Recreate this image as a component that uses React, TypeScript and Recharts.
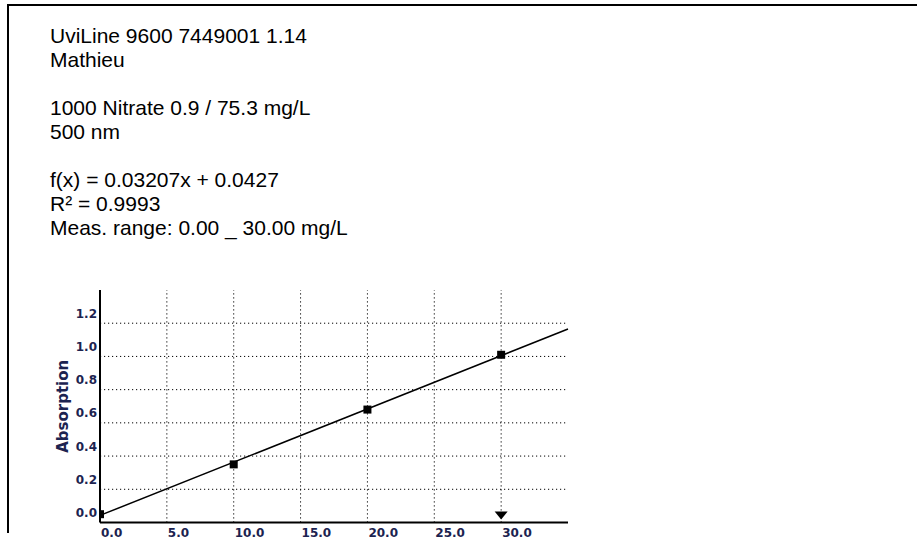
import { ComposedChart, Scatter, XAxis, YAxis, ReferenceLine, ReferenceDot } from "recharts";

// header text printed above the calibration curve
const headerLines = [
  "UviLine 9600 7449001 1.14",
  "Mathieu",
  "",
  "1000 Nitrate 0.9 / 75.3 mg/L",
  "500 nm",
  "",
  "f(x) = 0.03207x + 0.0427",
  "R\u00b2 = 0.9993",
  "Meas. range: 0.00 _ 30.00 mg/L",
];

// standards (mg/L) and measured absorption
const stdConc = [0, 10, 20, 30];
const stdAbs = [0.05, 0.35, 0.68, 1.01];

// fitted line end points
const fitX = [0, 35];
const fitY = [0.0427, 1.165];

// upper end of measuring range (triangle marker)
const rangeEnd = 30;

const xTicks = [0, 5, 10, 15, 20, 25, 30];
const yTicks = [0, 0.2, 0.4, 0.6, 0.8, 1.0, 1.2];

const points = stdConc.map((x, i) => ({ x, y: stdAbs[i] }));

const tickColor = "#1c2350";
const tickFont = "'DejaVu Sans', Verdana, sans-serif";
const gridDash = "1.2 2.8";

const XTick = (props: any) => {
  const { x, y, payload } = props;
  return (
    <text x={x + 1} y={y + 12} textAnchor="start" fontFamily={tickFont} fontWeight="bold" fontSize={12} fill={tickColor}>
      {payload.value.toFixed(1)}
    </text>
  );
};

const YTick = (props: any) => {
  const { x, y, payload } = props;
  return (
    <text x={x} y={y - 9.5} textAnchor="end" dominantBaseline="central" fontFamily={tickFont} fontWeight="bold" fontSize={12} fill={tickColor}>
      {payload.value.toFixed(1)}
    </text>
  );
};

const SquareDot = (props: any) => {
  const { cx, cy } = props;
  return <rect x={cx - 4} y={cy - 4} width={8} height={8} fill="#000" />;
};

const Triangle = (props: any) => {
  const { cx, cy } = props;
  return <polygon points={`${cx - 6.5},${cy - 11} ${cx + 6.5},${cy - 11} ${cx},${cy - 3}`} fill="#000" />;
};

export default function App() {
  return (
    <div style={{ position: "fixed", left: 0, top: 0, width: 917, height: 539, overflow: "hidden", background: "#fff" }}>
      <div
        style={{
          position: "absolute",
          left: 7,
          top: 4,
          width: 910,
          height: 529,
          borderTop: "2px solid #000",
          borderLeft: "2px solid #000",
          boxSizing: "border-box",
        }}
      />
      <div
        style={{
          position: "absolute",
          left: 50,
          top: 24,
          fontFamily: "'Liberation Sans', Arial, sans-serif",
          fontSize: 21,
          lineHeight: "24px",
          color: "#000",
          whiteSpace: "pre",
        }}
      >
        {headerLines.map((t, i) => (
          <div key={i} style={{ height: 24 }}>{t}</div>
        ))}
      </div>
      <div style={{ position: "absolute", left: 0, top: 0 }}>
        <ComposedChart width={917} height={560} data={points} margin={{ top: 290, right: 349, left: 40, bottom: 17.5 }}>
          {/* dotted grid at the tick values only */}
          {yTicks.slice(1).map((v) => (
            <ReferenceLine key={`h${v}`} y={v} stroke="#000" strokeDasharray={gridDash} />
          ))}
          {xTicks.slice(1).map((v) => (
            <ReferenceLine key={`v${v}`} x={v} stroke="#000" strokeDasharray={gridDash} />
          ))}
          <XAxis
            type="number"
            dataKey="x"
            domain={[0, 35]}
            ticks={xTicks}
            height={20}
            tickLine={false}
            tickSize={0}
            axisLine={{ stroke: "#000", strokeWidth: 2 }}
            tick={<XTick />}
            allowDataOverflow
          />
          <YAxis
            type="number"
            dataKey="y"
            domain={[0, 1.4]}
            ticks={yTicks}
            width={60}
            tickLine={false}
            tickSize={0}
            tickMargin={3}
            axisLine={{ stroke: "#000", strokeWidth: 2 }}
            tick={<YTick />}
            allowDataOverflow
            label={{
              content: (p: any) => {
                const vb = p.viewBox;
                const cx = vb.x + 23;
                const cy = vb.y + vb.height / 2;
                return (
                  <text x={cx} y={cy} transform={`rotate(-90 ${cx} ${cy})`} textAnchor="middle" dominantBaseline="central" fontFamily={tickFont} fontWeight="bold" fontSize={15} fill={tickColor}>
                    Absorption
                  </text>
                );
              },
            }}
          />
          <ReferenceLine
            segment={[
              { x: fitX[0], y: fitY[0] },
              { x: fitX[1], y: fitY[1] },
            ]}
            stroke="#000"
            strokeWidth={1.5}
            ifOverflow="visible"
          />
          <Scatter data={points} dataKey="y" shape={<SquareDot />} isAnimationActive={false} />
          <ReferenceDot x={rangeEnd} y={0} shape={<Triangle />} ifOverflow="visible" />
        </ComposedChart>
      </div>
    </div>
  );
}
